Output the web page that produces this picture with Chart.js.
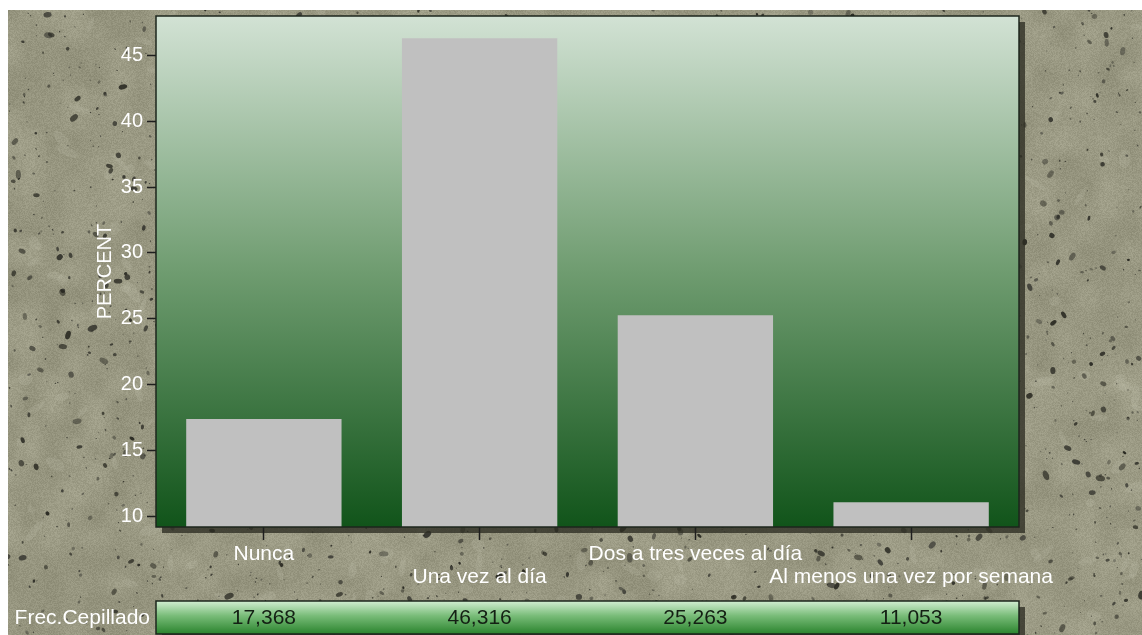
<!DOCTYPE html>
<html>
<head>
<meta charset="utf-8">
<title>Frecuencia de cepillado</title>
<script src="https://cdn.jsdelivr.net/npm/chart.js@4/dist/chart.umd.min.js"></script>
<style>
html, body { margin: 0; padding: 0; background: #fff; }
#wrap { width: 1142px; height: 635px; }
</style>
</head>
<body>
<div id="wrap"><canvas id="graphCepillado" width="1142" height="635"></canvas></div>
<script>
// datos
var categorias = ['Nunca', 'Una vez al día', 'Dos a tres veces al día', 'Al menos una vez por semana'];
var porcentajes = [17.368, 46.316, 25.263, 11.053];
var tablaEtiqueta = 'Frec.Cepillado';
var ticksY = [10, 15, 20, 25, 30, 35, 40, 45];
var rangoY = [9.17, 48.0];

var FUENTE = '"Liberation Sans", Arial, sans-serif';

function mulberry32(a) {
    return function () {
        a |= 0; a = a + 0x6D2B79F5 | 0;
        var t = Math.imul(a ^ a >>> 15, 1 | a);
        t = t + Math.imul(t ^ t >>> 7, 61 | t) ^ t;
        return ((t ^ t >>> 14) >>> 0) / 4294967296;
    };
}

// fondo de piedra hecho a mano (ruido suave + motas)
function texturaPiedra(w, h) {
    var c = document.createElement('canvas');
    c.width = w; c.height = h;
    var g = c.getContext('2d');
    var rnd = mulberry32(1234);
    var gs = 22, gw = Math.ceil(w / gs) + 2, gh = Math.ceil(h / gs) + 2;
    var grid = [];
    for (var i = 0; i < gw * gh; i++) grid.push(rnd());
    var img = g.createImageData(w, h), d = img.data;
    for (var y = 0; y < h; y++) {
        var gy = y / gs, y0 = Math.floor(gy), fy = gy - y0;
        fy = fy * fy * (3 - 2 * fy);
        for (var x = 0; x < w; x++) {
            var gx = x / gs, x0 = Math.floor(gx), fx = gx - x0;
            fx = fx * fx * (3 - 2 * fx);
            var a = grid[y0 * gw + x0], b = grid[y0 * gw + x0 + 1];
            var c2 = grid[(y0 + 1) * gw + x0], d2 = grid[(y0 + 1) * gw + x0 + 1];
            var n = (a + (b - a) * fx) * (1 - fy) + (c2 + (d2 - c2) * fx) * fy;
            var v = (n - 0.5) * 16 + (rnd() - 0.5) * 18;
            var k = (y * w + x) * 4;
            d[k] = 153 + v; d[k + 1] = 152 + v; d[k + 2] = 130 + v; d[k + 3] = 255;
        }
    }
    g.putImageData(img, 0, 0);
    // manchas claras
    for (var j = 0; j < 260; j++) {
        g.fillStyle = 'rgba(205,205,185,0.16)';
        g.beginPath();
        g.ellipse(rnd() * w, rnd() * h, 4 + rnd() * 9, 2 + rnd() * 4, rnd() * 3.14, 0, 6.283);
        g.fill();
    }
    // motas oscuras, gris neutro
    for (var m = 0; m < 2600; m++) {
        var r = 0.5 + Math.pow(rnd(), 3) * 2.4;
        var s = 25 + rnd() * 35 | 0;
        g.fillStyle = 'rgba(' + s + ',' + s + ',' + (s - 6) + ',' + (0.4 + rnd() * 0.5).toFixed(2) + ')';
        g.beginPath();
        g.ellipse(rnd() * w, rnd() * h, r * (1 + rnd() * 0.8), r, rnd() * 3.14, 0, 6.283);
        g.fill();
    }
    return c;
}

var piedra = texturaPiedra(1134, 625);

var pluginFondo = {
    id: 'fondo',
    beforeDraw: function (chart) {
        var ctx = chart.ctx, a = chart.chartArea;
        ctx.save();
        ctx.fillStyle = '#fff';
        ctx.fillRect(0, 0, chart.width, chart.height);
        ctx.drawImage(piedra, 8, 10);
        // sombra del area de trazado y de la tabla
        ctx.fillStyle = 'rgba(45,45,35,0.78)';
        ctx.fillRect(a.left + 6, a.top + 6, a.right - a.left, a.bottom - a.top);
        ctx.fillRect(a.left + 6, a.bottom + 80, a.right - a.left, 33);
        var grad = ctx.createLinearGradient(0, a.top, 0, a.bottom);
        grad.addColorStop(0, '#d2e2d4');
        grad.addColorStop(0.5, '#6f9c70');
        grad.addColorStop(1, '#11541a');
        ctx.fillStyle = grad;
        ctx.fillRect(a.left, a.top, a.right - a.left, a.bottom - a.top);
        ctx.restore();
    },
    afterDatasetsDraw: function (chart) {
        var ctx = chart.ctx, a = chart.chartArea;
        ctx.save();
        ctx.strokeStyle = '#1c261c';
        ctx.lineWidth = 1.5;
        ctx.strokeRect(a.left, a.top, a.right - a.left, a.bottom - a.top);
        ctx.restore();
    }
};

// fila de la tabla bajo el eje x
var pluginTabla = {
    id: 'tabla',
    afterDraw: function (chart) {
        var ctx = chart.ctx, a = chart.chartArea, xs = chart.scales.x;
        var top = a.bottom + 74, alto = 33;
        ctx.save();
        var grad = ctx.createLinearGradient(0, top, 0, top + alto);
        grad.addColorStop(0, '#d2eed2');
        grad.addColorStop(0.45, '#78bc78');
        grad.addColorStop(1, '#2a832d');
        ctx.fillStyle = grad;
        ctx.fillRect(a.left, top, a.right - a.left, alto);
        ctx.strokeStyle = '#1c261c';
        ctx.lineWidth = 1.5;
        ctx.strokeRect(a.left, top, a.right - a.left, alto);
        ctx.font = '21px ' + FUENTE;
        ctx.textBaseline = 'middle';
        ctx.fillStyle = '#fff';
        ctx.textAlign = 'right';
        ctx.fillText(tablaEtiqueta, a.left - 6, top + alto / 2 + 1);
        ctx.fillStyle = '#142014';
        ctx.textAlign = 'center';
        porcentajes.forEach(function (v, i) {
            ctx.fillText(v.toFixed(3).replace('.', ','), xs.getPixelForValue(i), top + alto / 2 + 1);
        });
        ctx.restore();
    }
};

var graphCepillado = new Chart('graphCepillado', {
    type: 'bar',
    data: {
        labels: categorias,
        datasets: [{
            data: porcentajes,
            backgroundColor: '#c0c0c0',
            borderWidth: 0,
            categoryPercentage: 1.0,
            barPercentage: 0.72
        }]
    },
    options: {
        responsive: false,
        animation: false,
        devicePixelRatio: 1,
        layout: { padding: { left: 8, top: 14, right: 123, bottom: 38 } },
        plugins: { legend: { display: false }, tooltip: { enabled: false } },
        scales: {
            x: {
                afterFit: function (s) { s.height = 70; },
                border: { display: false },
                grid: { offset: false, drawOnChartArea: false, tickLength: 13, tickColor: '#1e1e1e', tickWidth: 1.5 },
                ticks: {
                    color: '#fff',
                    font: { family: FUENTE, size: 21, lineHeight: 1.12 },
                    padding: 2,
                    maxRotation: 0, minRotation: 0, autoSkip: false,
                    callback: function (v, i) { return i % 2 ? ['', categorias[i]] : categorias[i]; }
                }
            },
            y: {
                min: rangoY[0],
                max: rangoY[1],
                afterFit: function (s) { s.width = 148; },
                afterBuildTicks: function (s) { s.ticks = ticksY.map(function (v) { return { value: v }; }); },
                border: { display: false },
                grid: { drawOnChartArea: false, tickLength: 9, tickColor: '#1e1e1e', tickWidth: 1.5 },
                ticks: { color: '#fff', font: { family: FUENTE, size: 20 }, padding: 4 },
                title: {
                    display: true,
                    text: 'PERCENT',
                    color: '#fff',
                    font: { family: FUENTE, size: 20 },
                    padding: { top: 85, bottom: 0 }
                }
            }
        }
    },
    plugins: [pluginFondo, pluginTabla]
});
</script>
</body>
</html>
